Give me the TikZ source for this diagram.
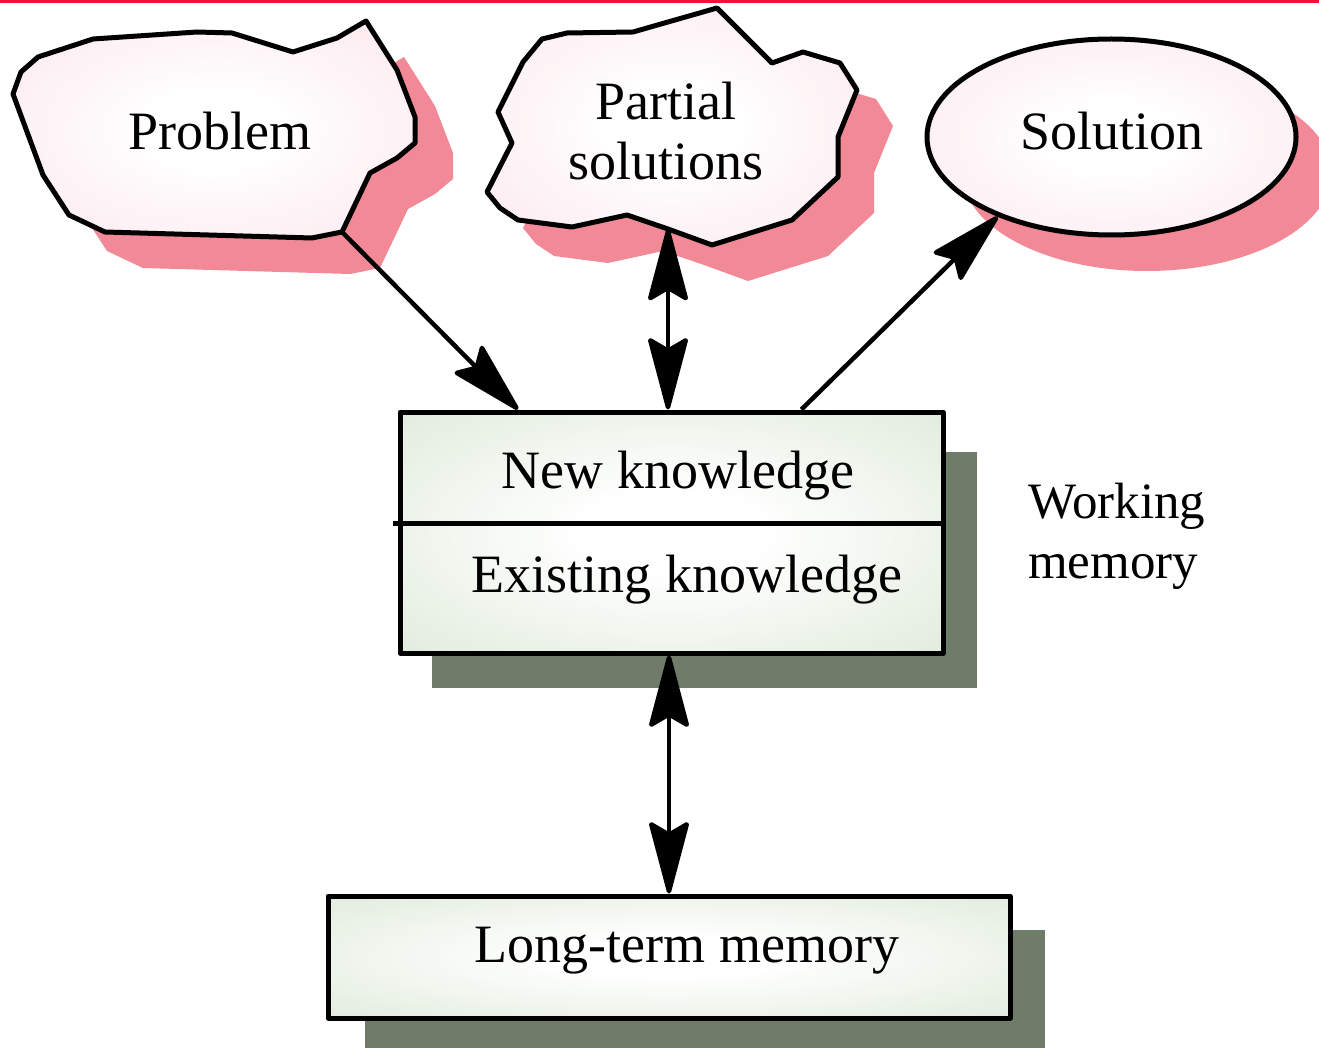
\documentclass[tikz,border=0pt]{standalone}
\usepackage{fontspec}
\setmainfont{Liberation Serif}
\usetikzlibrary{arrows.meta,shapes.geometric,calc}

\definecolor{blobpink}{RGB}{251,224,231}
\definecolor{blobshadow}{RGB}{242,137,151}
\definecolor{boxgreen}{RGB}{210,226,203}
\definecolor{boxshadow}{RGB}{112,124,106}
\definecolor{topred}{RGB}{250,15,60}

\pgfdeclareradialshading{pinkglow}{\pgfpoint{0bp}{0bp}}{color(0bp)=(white); color(8bp)=(white); color(45bp)=(blobpink); color(50bp)=(blobpink)}
\pgfdeclareradialshading{greenglow}{\pgfpoint{0bp}{0bp}}{color(0bp)=(white); color(8bp)=(white); color(50bp)=(boxgreen)}

% outlines of the two irregular blobs
\def\problemoutline{(366,21) -- (337,38) -- (293,52) -- (232,33) -- (197,32) -- (93,39) -- (38,57) -- (21,72) -- (13,94) -- (43,175) -- (69,215) -- (105,232) -- (312,238) -- (342,232) -- (370,173) -- (397,158) -- (415,143) -- (415,117) -- (397,70) -- cycle}
\def\partialoutline{(717,8) -- (633,32) -- (567,33) -- (542,39) -- (523,62) -- (498,112) -- (512,143) -- (487,192) -- (500,208) -- (518,220) -- (572,227) -- (627,215) -- (668,229) -- (712,245) -- (792,220) -- (838,177) -- (838,137) -- (857,90) -- (840,63) -- (803,52) -- (772,63) -- cycle}

\begin{document}
\begin{tikzpicture}[x=1pt,y=-1pt,
  outline/.style={draw=black,line width=5pt,line join=round},
  blob/.style={outline,shading=pinkglow},
  memorybox/.style={rectangle,outline,shade,shading=greenglow,inner sep=0pt},
  lbl/.style={font=\fontsize{54}{60}\selectfont,inner sep=0pt},
  conn/.style={line width=4.5pt,draw=black},
  >={Stealth[length=80pt,width=42pt,inset=12pt,round]}]
\useasboundingbox (0,0) rectangle (1319,1048);
\clip (0,0) rectangle (1319,1048);

% rule along the top edge
\fill[topred] (0,0) rectangle (1319,3);

% drop shadows
\fill[blobshadow,shift={(38,36)}] \problemoutline;
\fill[blobshadow,shift={(36,36)}] \partialoutline;
\fill[blobshadow] (1147,173) ellipse [x radius=184.5, y radius=98];
\fill[boxshadow] (432,452) rectangle (977,688);
\fill[boxshadow] (365,930) rectangle (1045,1048);

% problem, partial solutions and solution
\shadedraw[blob] \problemoutline;
\coordinate (probtail) at (342,232);
\node[lbl,anchor=base] (probtext) at (220,150) {Problem};

\shadedraw[blob] \partialoutline;
\coordinate (partip) at (668,229);
\node[lbl,align=center,anchor=base] (partext) at (666,180) {Partial\\solutions};

\node[ellipse,outline,shade,shading=pinkglow,inner sep=0pt,
      minimum width=369pt,minimum height=196pt] (sol) at (1111.5,137) {};
\node[lbl,anchor=base] (soltext) at (1112,150) {Solution};

% working memory
\node[memorybox,minimum width=543pt,minimum height=241pt] (wm) at (671.5,532.5) {};
\coordinate (divy) at (0,523);
\draw[outline] ($(wm.west |- divy)+(-5,0)$) -- (wm.east |- divy);
\node[lbl,anchor=base] (newk) at (678,488) {New knowledge};
\node[lbl,anchor=base] (exk) at (687,592) {Existing knowledge};
\node[lbl,font=\fontsize{51}{60}\selectfont,align=left,anchor=base west] (wmlabel) at (1028,578) {Working\\memory};

% long-term memory
\node[memorybox,minimum width=682pt,minimum height=122pt] (ltm) at (669,957) {};
\node[lbl,anchor=base] (ltmtext) at (687,962) {Long-term memory};

% connectors
\draw[conn,->] (probtail) -- ($(wm.north west)!0.22!(wm.north east)$);
\draw[conn,<->] (partip) -- (wm.north -| partip);
\draw[conn,->] ($(wm.north west)!0.737!(wm.north east)$) -- (sol.215);
\draw[conn,<->] (wm.south -| ltm.north) -- (ltm.north);
\end{tikzpicture}
\end{document}
